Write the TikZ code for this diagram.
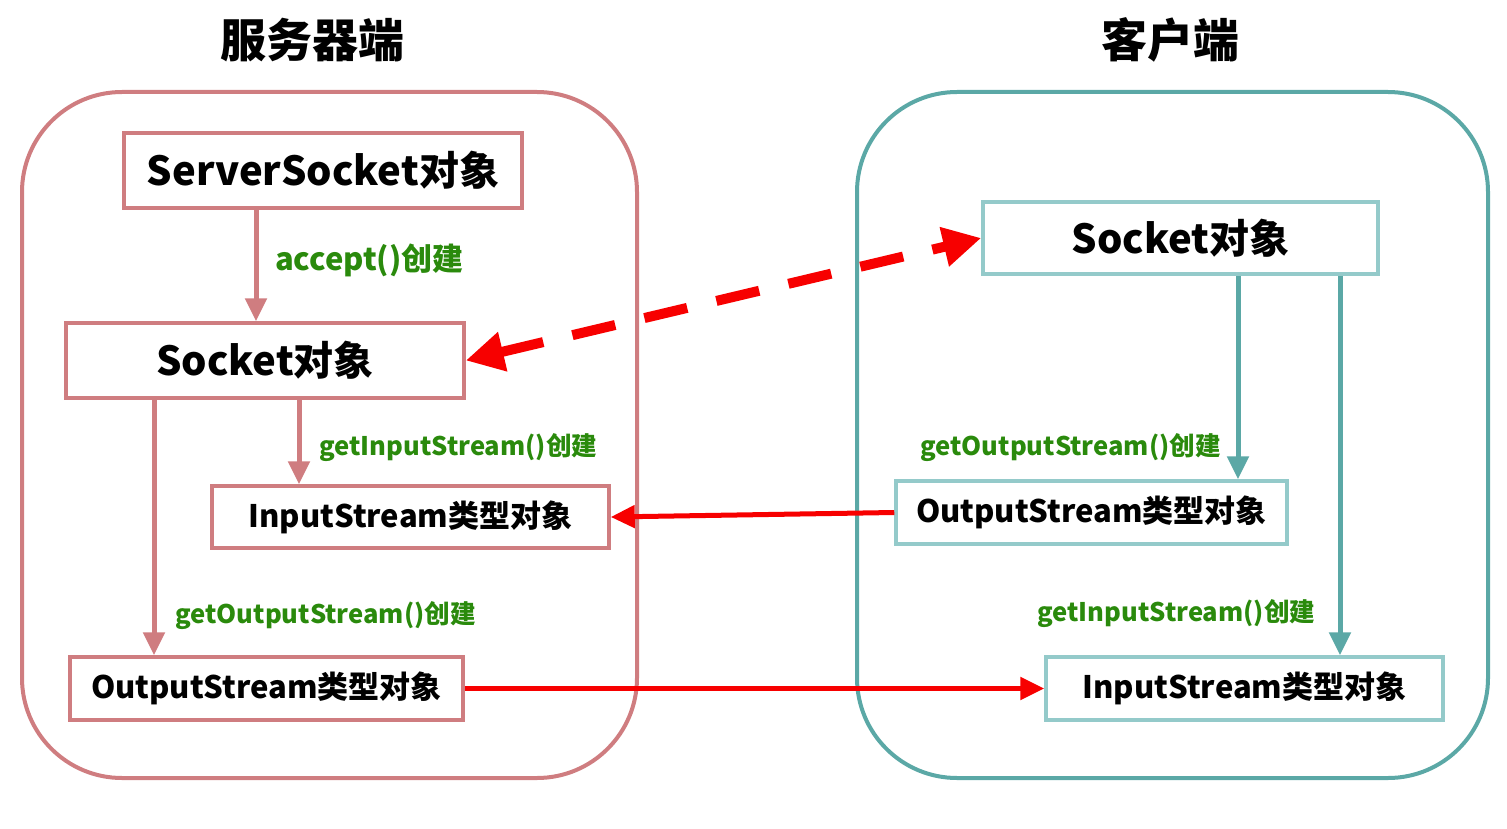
\documentclass[tikz,border=0pt]{standalone}
\usepackage{fontspec}
\setmainfont{Noto Sans CJK SC}
\usepackage{xcolor}
\usetikzlibrary{arrows.meta,positioning}

\definecolor{rose}{HTML}{CF7D80}
\definecolor{teal}{HTML}{5BA8A6}
\definecolor{tealbox}{HTML}{94CACA}
\definecolor{labgreen}{HTML}{2A8A0C}
\definecolor{linkred}{HTML}{F70000}

\begin{document}
\begin{tikzpicture}[x=1pt,y=-1pt,
    panel/.style={draw, line width=4pt, rounded corners=100pt},
    objbox/.style={draw, line width=3.5pt, fill=white, inner sep=0pt, font=\bfseries},
    bigtext/.style={font=\bfseries\fontsize{40}{40}\selectfont},
    midtext/.style={font=\bfseries\fontsize{31}{31}\selectfont},
    lab/.style={anchor=west, text=labgreen, inner sep=0pt, font=\bfseries\fontsize{25.6}{25.6}\selectfont},
    roseflow/.style={draw=rose, line width=5pt, -{Triangle[width=21pt,length=23pt]}},
    tealflow/.style={draw=teal, line width=5pt, -{Triangle[width=21pt,length=23pt]}},
    dataflow/.style={draw=linkred, line width=5pt, -{Triangle[width=22pt,length=24pt]}}]
    \useasboundingbox (0,0) rectangle (1507,829);

    % titles
    \node[font=\bfseries\fontsize{46}{46}\selectfont] (tSrv) at (312,40) {服务器端};
    \node[font=\bfseries\fontsize{46}{46}\selectfont] (tCli) at (1170,40) {客户端};

    % panels
    \node[panel, draw=rose, minimum width=615pt, minimum height=686pt] (srv) at (329.5,435) {};
    \node[panel, draw=teal, minimum width=631pt, minimum height=686pt] (cli) at (1172.5,435) {};

    % server side
    \node[objbox, draw=rose, minimum width=398pt, minimum height=75pt, bigtext] (ss) at (323,170.5) {ServerSocket对象};
    \node[objbox, draw=rose, minimum width=398pt, minimum height=75pt, bigtext] (sockL) at (265,360.5) {Socket对象};
    \node[objbox, draw=rose, minimum width=397pt, minimum height=62pt, midtext] (inL) at (410.5,517) {InputStream类型对象};
    \node[objbox, draw=rose, minimum width=393pt, minimum height=63pt, midtext] (outL) at (266.5,688.5) {OutputStream类型对象};

    % client side
    \node[objbox, draw=tealbox, minimum width=395pt, minimum height=72pt, bigtext] (sockR) at (1180.5,238) {Socket对象};
    \node[objbox, draw=tealbox, minimum width=391pt, minimum height=63pt, midtext] (outR) at (1091.5,512.5) {OutputStream类型对象};
    \node[objbox, draw=tealbox, minimum width=397pt, minimum height=63pt, midtext] (inR) at (1244.5,688.5) {InputStream类型对象};

    % arrow columns
    \coordinate (c1) at (256,0);
    \coordinate (c2) at (154,0);
    \coordinate (c3) at (299,0);
    \coordinate (c4) at (1238,0);
    \coordinate (c5) at (1340,0);

    \draw[roseflow] (ss.south -| c1) -- (sockL.north -| c1);
    \draw[roseflow] (sockL.south -| c2) -- (outL.north -| c2);
    \draw[roseflow] (sockL.south -| c3) -- (inL.north -| c3);
    \draw[tealflow] (sockR.south -| c4) -- (outR.north -| c4);
    \draw[tealflow] (sockR.south -| c5) -- (inR.north -| c5);

    % labels
    \node[lab, font=\bfseries\fontsize{31}{31}\selectfont] (lAcc) at (275,260) {accept()创建};
    \node[lab] (lInL) at (319,448) {getInputStream()创建};
    \node[lab] (lOutL) at (175,616) {getOutputStream()创建};
    \node[lab] (lOutR) at (920,448) {getOutputStream()创建};
    \node[lab] (lInR) at (1037,614) {getInputStream()创建};

    % connections
    \draw[draw=linkred, line width=10pt, dash pattern=on 44pt off 30pt,
        {Triangle[width=38pt,length=38pt]}-{Triangle[width=38pt,length=38pt]}] (sockL.east) -- (sockR.west);
    \draw[dataflow] (outR.west) -- (inL.east);
    \draw[dataflow] (outL.east) -- (inR.west);
\end{tikzpicture}
\end{document}
